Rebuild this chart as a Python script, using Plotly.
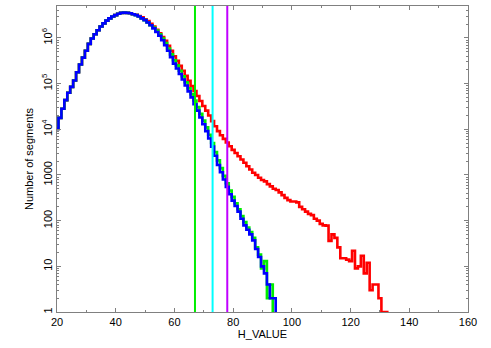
import plotly.graph_objects as go

# H_VALUE bins (integer centres), counts
h_red = list(range(19, 134))
h_grn = list(range(19, 96))
h_blu = list(range(19, 96))

# common rising part, bins 19..46
body = [5000, 10200, 17800, 28200, 43600, 63100, 85100, 117500, 177800, 263000,
        371500, 524800, 741300, 977200, 1202000, 1479000, 1778000, 2089000, 2399000, 2692000,
        2951000, 3162000, 3388000, 3548000, 3597000, 3548000, 3467000, 3311000]

blue_tail = [3162000, 2951000, 2692000, 2455000, 2188000, 1905000, 1622000, 1349000, 1122000, 891000,
             692000, 525000, 380000, 275000, 214000, 162000, 123000, 91200, 67600, 50100,
             35500, 25700, 18200, 12900, 9120, 6310, 4170, 2630, 1660, 1150,
             794, 550, 380, 275, 209, 158, 110, 79, 63, 50,
             37, 24, 16, 10, 7, 4, 2, 2, 0]

green_tail = [3162000, 2951000, 2692000, 2455000, 2188000, 1905000, 1698000, 1445000, 1202000, 977000,
              776000, 589000, 437000, 324000, 251000, 191000, 145000, 107000, 79400, 58900,
              42700, 30900, 21900, 15500, 11000, 7590, 5010, 3160, 2090, 1410,
              955, 661, 457, 331, 240, 178, 126, 93, 71, 56,
              42, 26, 18, 9, 13, 2, 4, 0, 0]

red_tail = [3236000, 3020000, 2818000, 2570000, 2344000, 2042000, 1778000, 1514000, 1259000, 1047000,
            871000, 676000, 525000, 398000, 316000, 245000, 191000, 148000, 115000, 89100,
            69200, 53700, 41700, 32400, 25700, 20000, 15100, 11700, 9120, 7410,
            6170, 5130, 4270, 3550, 3020, 2570, 2190, 1860, 1550, 1320,
            1120, 1000, 871, 776, 724, 631, 562, 501, 468, 417,
            363, 316, 282, 263, 263, 251, 200, 178, 158, 141,
            132, 110, 100, 85, 79, 78, 36, 50, 42, 26,
            15, 15, 14, 13, 22, 9, 10, 17, 7, 12,
            3, 4, 4, 2, 1, 1, 0]

n_red = body + red_tail
n_grn = body + green_tail
n_blu = body + blue_tail

cut_values = [67, 73, 78]
cut_colors = ['#00ee00', '#00ffff', '#c000ff']

y_ticks = [1, 10, 100, 1000, 1e4, 1e5, 1e6]
y_text = ['1', '10', '100', '1000', '10<sup>4</sup>', '10<sup>5</sup>', '10<sup>6</sup>']


def floor0(v):
    # zero bins drawn below the axis so the step drops off
    return [c if c > 0 else 0.01 for c in v]


fig = go.Figure()
for hh, nn, col in [(h_red, n_red, '#ff0000'), (h_grn, n_grn, '#00ee00'), (h_blu, n_blu, '#0000ff')]:
    fig.add_trace(go.Scatter(x=hh, y=floor0(nn), mode='lines',
                             line=dict(color=col, width=2.6, shape='hvh'),
                             showlegend=False))

for v, c in zip(cut_values, cut_colors):
    fig.add_shape(type='line', x0=v, x1=v, y0=0, y1=1, xref='x', yref='paper',
                  line=dict(color=c, width=2), layer='above')

minor_y = [m * 10 ** d for d in range(0, 7) for m in range(2, 10)]

fig.update_layout(
    width=491, height=348,
    margin=dict(l=57, r=23, t=6, b=36),
    paper_bgcolor='white', plot_bgcolor='white',
    font=dict(family='Liberation Sans, Arial, sans-serif', size=11, color='#000000'),
    showlegend=False,
)
fig.update_xaxes(range=[20, 160], tickvals=list(range(20, 161, 20)), automargin=False,
                 ticks='inside', ticklen=4, tickcolor='#808080',
                 minor=dict(tickvals=list(range(30, 160, 20)), ticks='inside', ticklen=2, tickcolor='#808080'),
                 showline=True, linecolor='#808080', linewidth=1, mirror='ticks',
                 showgrid=False, zeroline=False,
                 title=dict(text='H_VALUE', standoff=0, font=dict(size=11)))
fig.update_yaxes(type='log', range=[0, 6.7], tickvals=y_ticks, ticktext=y_text, automargin=False,
                 tickangle=-90, ticks='inside', ticklen=4, tickcolor='#808080',
                 minor=dict(tickvals=minor_y, ticks='inside', ticklen=2, tickcolor='#808080'),
                 showline=True, linecolor='#808080', linewidth=1, mirror='ticks',
                 showgrid=False, zeroline=False,
                 title=dict(text='Number of segments', standoff=4, font=dict(size=11)))

# page body has a default 8px margin; drop it so the figure sits at 0,0
fig.write_html("out.html", config={'displayModeBar': False},
               post_script="document.body.style.margin='0';")
